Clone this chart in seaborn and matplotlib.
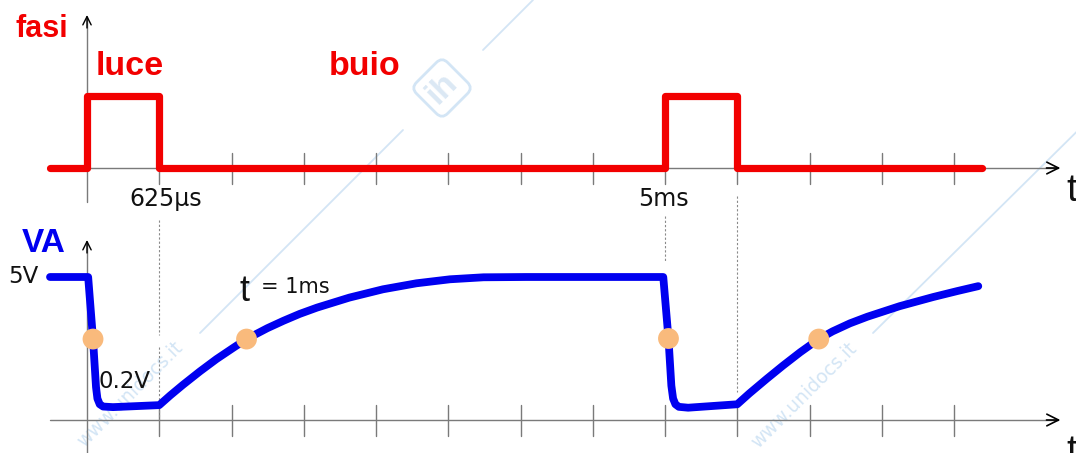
import matplotlib
matplotlib.use("Agg")
import matplotlib.pyplot as plt
import matplotlib.transforms as mtransforms
from matplotlib.patches import FancyBboxPatch
import seaborn as sns

# ---------------- data (time in ms) ----------------
phase_t = [-0.32, 0.0, 0.0, 0.625, 0.625, 5.0, 5.0, 5.625, 5.625, 7.74]
phase_v = [0, 0, 1, 1, 0, 0, 1, 1, 0, 0]

va_t = [-0.32, 0.01, 0.052, 0.078, 0.09, 0.11, 0.14, 0.225, 0.625,
        0.72, 0.83, 0.977, 1.12, 1.26, 1.38, 1.56, 1.70, 1.84, 1.99,
        2.27, 2.56, 2.85, 3.14, 3.43, 3.8,
        4.985, 5.03, 5.055, 5.07, 5.09, 5.12, 5.2, 5.625,
        5.73, 5.88, 6.02, 6.17, 6.33, 6.45, 6.60, 6.75, 7.03, 7.32, 7.53, 7.71]
va_v = [5.0, 5.0, 2.83, 1.15, 0.75, 0.55, 0.47, 0.45, 0.52,
        0.86, 1.23, 1.70, 2.13, 2.51, 2.83, 3.21, 3.47, 3.71, 3.93,
        4.28, 4.57, 4.78, 4.92, 4.99, 5.0,
        5.0, 2.85, 1.2, 0.75, 0.55, 0.46, 0.43, 0.55,
        0.93, 1.44, 1.90, 2.37, 2.83, 3.10, 3.38, 3.61, 3.98, 4.30, 4.51, 4.68]

dot_t = [0.052, 1.38, 5.03, 6.33]
dot_v = [2.83, 2.83, 2.85, 2.83]

tick_step = 0.625
n_ticks = 12
label_625 = "625µs"
label_5ms = "5ms"

RED = "#F20000"
BLUE = "#0000F0"
ORANGE = "#F9BA7C"
GREY = "#7a7a7a"
WM = "#d3e5f5"

# ---------------- figure ----------------
sns.set_theme(style="white")
plt.rcParams["font.family"] = ["Liberation Sans", "DejaVu Sans"]
REG = ["DejaVu Sans"]

W, H = 1076, 453
fig = plt.figure(figsize=(W / 100, H / 100), dpi=100)
fig.patch.set_facecolor("white")

T0 = (0 - 87) * 0.625 / 72.25
T1 = (W - 87) * 0.625 / 72.25

ax1 = fig.add_axes([0, (H - 220) / H, 1, 220 / H])
ax2 = fig.add_axes([0, 0, 1, 233 / H])
for ax in (ax1, ax2):
    ax.set_xlim(T0, T1)
    ax.set_axis_off()
    ax.patch.set_alpha(0)
ax1.set_ylim((168 - 220) / 72, 168 / 72)
ax2.set_ylim((420 - 453) / 28.6, (420 - 220) / 28.6)

def px(x, y):
    return x / W, 1 - y / H

# watermark lines / text / logo
wm_ax = fig.add_axes([0, 0, 1, 1], zorder=-1)
wm_ax.set_xlim(0, W)
wm_ax.set_ylim(H, 0)
wm_ax.set_axis_off()
wm_ax.plot([533, 483], [0, 50], color=WM, lw=1.3)
wm_ax.plot([403, 200], [130, 333], color=WM, lw=1.3)
wm_ax.plot([1210, 873], [0, 333], color=WM, lw=1.3)
wm_ax.text(130, 394, "www.unidocs.it", rotation=45, color=WM, fontsize=13.5,
           ha="center", va="center", family=REG)
wm_ax.text(804, 395, "www.unidocs.it", rotation=45, color=WM, fontsize=13.5,
           ha="center", va="center", family=REG)
cx, cy = 442, H - 88
rot = mtransforms.Affine2D().rotate_deg_around(cx, cy, 45) + \
    mtransforms.Affine2D().scale(1 / 100) + fig.dpi_scale_trans
logo = FancyBboxPatch((cx - 20, cy - 20), 40, 40,
                      boxstyle="round,pad=2,rounding_size=8",
                      fill=False, ec=WM, lw=2, transform=rot)
fig.patches.append(logo)
fig.text(*px(442, 88), "ih", rotation=45, color="#dbe8f4", fontsize=24,
         fontweight="bold", ha="center", va="center", zorder=-1)

# ---------------- top panel: fasi ----------------
ax1.plot([phase_t[0], 8.40], [0, 0], color=GREY, lw=1, zorder=1)
ax1.annotate("", xy=(8.42, 0), xytext=(8.30, 0),
             arrowprops=dict(arrowstyle="->,head_length=0.7,head_width=0.35",
                             color="black", lw=1.2, shrinkA=0, shrinkB=0))
ax1.plot([0, 0], [(168 - 202) / 72, (168 - 17) / 72], color=GREY, lw=1, zorder=1)
ax1.annotate("", xy=(0, (168 - 15) / 72), xytext=(0, (168 - 28) / 72),
             arrowprops=dict(arrowstyle="->,head_length=0.5,head_width=0.25",
                             color="black", lw=1.0, shrinkA=0, shrinkB=0))
for k in range(1, n_ticks + 1):
    ax1.plot([k * tick_step] * 2, [-0.222, 0.208], color=GREY, lw=1, zorder=1)

sns.lineplot(x=phase_t, y=phase_v, ax=ax1, color=RED, lw=5.2, sort=False,
             estimator=None, solid_capstyle="round", solid_joinstyle="round",
             zorder=3)

# ---------------- bottom panel: VA ----------------
ax2.plot([-0.32, 8.40], [0, 0], color=GREY, lw=1, zorder=1, clip_on=False)
ax2.annotate("", xy=(8.42, 0), xytext=(8.30, 0),
             arrowprops=dict(arrowstyle="->,head_length=0.7,head_width=0.35",
                             color="black", lw=1.2, shrinkA=0, shrinkB=0))
ax2.plot([0, 0], [(420 - 460) / 28.6, (420 - 242) / 28.6], color=GREY, lw=1,
         zorder=1, clip_on=False)
ax2.annotate("", xy=(0, (420 - 240) / 28.6), xytext=(0, (420 - 253) / 28.6),
             arrowprops=dict(arrowstyle="->,head_length=0.5,head_width=0.25",
                             color="black", lw=1.0, shrinkA=0, shrinkB=0))
for k in range(1, n_ticks + 1):
    ax2.plot([k * tick_step] * 2, [-0.55, 0.52], color=GREY, lw=1, zorder=1)

dash = dict(color="#8a8a8a", lw=0.8, ls=(0, (2.0, 1.8)), clip_on=False, zorder=1)
ax2.plot([0.625, 0.625], [(420 - 220) / 28.6, (420 - 335) / 28.6], **dash)
ax2.plot([0.625, 0.625], [(420 - 347) / 28.6, 0], **dash)
ax2.plot([5.0, 5.0], [(420 - 216) / 28.6, (420 - 262) / 28.6], **dash)
ax2.plot([5.625, 5.625], [(420 - 196) / 28.6, (420 - 392) / 28.6], **dash)

sns.lineplot(x=va_t, y=va_v, ax=ax2, color=BLUE, lw=5.6, sort=False,
             estimator=None, solid_capstyle="round", solid_joinstyle="round",
             zorder=3)
sns.scatterplot(x=dot_t, y=dot_v, ax=ax2, color=ORANGE, s=225, linewidth=0,
                edgecolor="none", zorder=5)

# ---------------- texts ----------------
fig.text(*px(16, 37), "fasi", color=RED, fontsize=22, fontweight="bold",
         va="baseline")
fig.text(*px(96, 75), "luce", color=RED, fontsize=24.5, fontweight="bold",
         va="baseline")
fig.text(*px(329, 75), "buio", color=RED, fontsize=24.5, fontweight="bold",
         va="baseline")
fig.text(*px(166, 206), label_625, color="#111111", fontsize=17,
         ha="center", va="baseline", family=REG)
fig.text(*px(663, 206), label_5ms, color="#111111", fontsize=17,
         ha="center", va="baseline", family=REG)
fig.text(*px(1066, 201), "t", color="#111111", fontsize=28, va="baseline")
fig.text(*px(1066, 462), "t", color="#111111", fontsize=28, va="baseline")

fig.text(*px(22, 252), "VA", color=BLUE, fontsize=24, fontweight="bold",
         va="baseline")
fig.text(*px(8, 283), "5V", color="#111111", fontsize=16.5, va="baseline",
         family=REG)
fig.text(*px(98, 388), "0.2V", color="#111111", fontsize=16.5, va="baseline",
         family=REG)
fig.text(*px(239, 301), "t", color="#111111", fontsize=26, va="baseline")
fig.text(*px(261, 293), "= 1ms", color="#111111", fontsize=15, va="baseline",
         family=REG)

fig.savefig("out.png", dpi=100, facecolor="white")
